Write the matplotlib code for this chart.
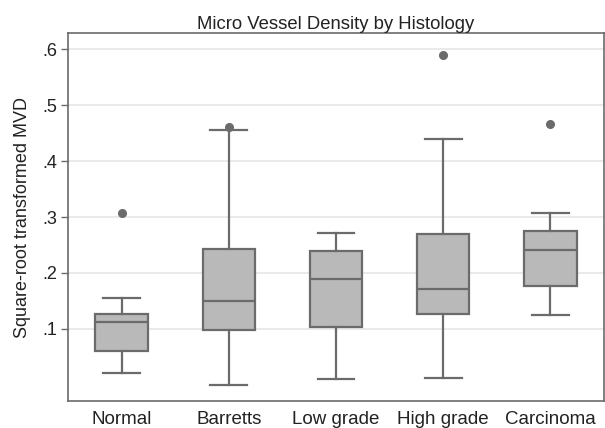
import matplotlib
matplotlib.use("Agg")
import matplotlib.pyplot as plt

plt.rcParams['font.family'] = ['Liberation Sans', 'DejaVu Sans']

categories = ["Normal", "Barretts", "Low grade", "High grade", "Carcinoma"]
whislo = [0.021, 0.000, 0.011, 0.013, 0.125]
q1 = [0.061, 0.098, 0.104, 0.127, 0.177]
med = [0.1125, 0.150, 0.190, 0.172, 0.241]
q3 = [0.127, 0.243, 0.240, 0.270, 0.275]
whishi = [0.155, 0.455, 0.271, 0.440, 0.308]
outliers = [[0.307], [0.461], [], [0.589], [0.466]]
yticks = [0.1, 0.2, 0.3, 0.4, 0.5, 0.6]
yticklabels = [".1", ".2", ".3", ".4", ".5", ".6"]

stats = []
for i, c in enumerate(categories):
    stats.append(dict(label=c, whislo=whislo[i], q1=q1[i], med=med[i],
                      q3=q3[i], whishi=whishi[i], fliers=outliers[i]))

fig = plt.figure(figsize=(6.05, 4.28), dpi=100)
ax = fig.add_axes([68/605, 1-401/428, (604-68)/605, (401-33)/428])

edge = "#6b6b6b"
ax.bxp(stats, positions=range(1, 6), widths=0.49, patch_artist=True,
       boxprops=dict(facecolor="#b9b9b9", edgecolor=edge, linewidth=1.6),
       medianprops=dict(color=edge, linewidth=1.6),
       whiskerprops=dict(color=edge, linewidth=1.6),
       capprops=dict(color=edge, linewidth=1.6),
       capwidths=0.345,
       flierprops=dict(marker='o', markerfacecolor=edge, markeredgecolor=edge,
                       markersize=5.5))

ax.set_xlim(0.5, 5.5)
ax.set_ylim(-0.0286, 0.6286)
ax.set_yticks(yticks)
ax.set_yticklabels(yticklabels)
ax.yaxis.grid(True, color="#e8e8e8", linewidth=1.3)
ax.set_axisbelow(True)
ax.tick_params(axis='y', length=5, color=edge, width=1, labelsize=13, pad=3,
               labelcolor="#222222")
ax.tick_params(axis='x', length=0, labelsize=13.5, pad=7, labelcolor="#222222")
for s in ax.spines.values():
    s.set_color(edge)
    s.set_linewidth(1.2)
ax.set_ylabel("Square-root transformed MVD", fontsize=13, labelpad=8,
              color="#222222")
ax.set_title("Micro Vessel Density by Histology", fontsize=13.3, pad=3,
             color="#222222")

fig.savefig("out.png", dpi=100, facecolor="white")
